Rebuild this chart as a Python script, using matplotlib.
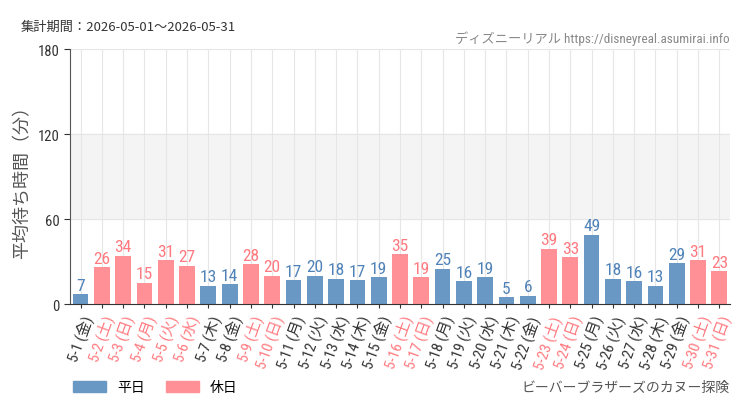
import matplotlib.pyplot as plt
from matplotlib.patches import Patch

plt.rcParams['font.family'] = ['Noto Sans CJK JP', 'DejaVu Sans']

days = ['5-1', '5-2', '5-3', '5-4', '5-5', '5-6', '5-7', '5-8', '5-9', '5-10',
        '5-11', '5-12', '5-13', '5-14', '5-15', '5-16', '5-17', '5-18', '5-19', '5-20',
        '5-21', '5-22', '5-23', '5-24', '5-25', '5-26', '5-27', '5-28', '5-29', '5-30', '5-31']
weekdays = ['金', '土', '日', '月', '火', '水', '木', '金', '土', '日',
            '月', '火', '水', '木', '金', '土', '日', '月', '火', '水',
            '木', '金', '土', '日', '月', '火', '水', '木', '金', '土', '日']
waits = [7, 26, 34, 15, 31, 27, 13, 14, 28, 20, 17, 20, 18, 17, 19, 35, 19, 25, 16, 19,
         5, 6, 39, 33, 49, 18, 16, 13, 29, 31, 23]
holiday = ['5-2', '5-3', '5-4', '5-5', '5-6', '5-9', '5-10', '5-16', '5-17',
           '5-23', '5-24', '5-30', '5-31']

blue = '#6a98c4'
pink = '#ff9196'
blue_txt = '#4f82b8'
pink_txt = '#ff7a80'
narrow = ['Roboto Condensed', 'Noto Sans CJK JP']

fig = plt.figure(figsize=(7.5, 4.1), dpi=100)
ax = fig.add_axes([0.0933, 0.256, 0.88, 0.622])

x = list(range(len(days)))
cols = [pink if d in holiday else blue for d in days]
ax.axhspan(60, 120, color='#f4f4f4', zorder=0)
for xi in x:
    ax.axvline(xi, color='#e6e6e6', lw=0.8, zorder=0.5)
for yv in [60, 120, 180]:
    ax.axhline(yv, color='#e6e6e6', lw=0.8, zorder=0.5)
ax.bar(x, waits, width=0.74, color=cols, zorder=2)
for xi, v, d in zip(x, waits, days):
    ax.text(xi, v + 1.0, str(v), ha='center', va='bottom', fontsize=12.5,
            color=pink_txt if d in holiday else blue_txt, family=narrow)

ax.set_xlim(-0.5, len(days) - 0.5)
ax.set_ylim(0, 180)
ax.set_yticks([0, 60, 120, 180])
ax.tick_params(axis='y', labelsize=10.5, colors='#333333', length=4)
ax.tick_params(axis='x', length=3, color='#333333')
for lab in ax.get_yticklabels():
    lab.set_family(narrow)
ax.set_xticks(x)
ax.set_xticklabels([f'{d} ({w})' for d, w in zip(days, weekdays)], rotation=70,
                   ha='right', rotation_mode='anchor', fontsize=11, family=narrow)
for lab, d in zip(ax.get_xticklabels(), days):
    lab.set_color(pink_txt if d in holiday else '#333333')
ax.set_ylabel('平均待ち時間（分）', fontsize=13, color='#555555')
ax.yaxis.set_label_coords(-0.058, 0.5)
for s in ['top', 'right']:
    ax.spines[s].set_visible(False)
ax.spines['left'].set_color('#555555')
ax.spines['bottom'].set_color('#333333')

fig.text(0.027, 0.925, '集計期間：2026-05-01～2026-05-31', fontsize=9.5, color='#333333')
fig.text(0.973, 0.895, 'ディズニーリアル https://disneyreal.asumirai.info', fontsize=9.5,
         color='#888888', ha='right', family=narrow)
fig.text(0.973, 0.045, 'ビーバーブラザーズのカヌー探険', fontsize=10, color='#555555', ha='right')
fig.legend(handles=[Patch(color=blue, label='平日'), Patch(color=pink, label='休日')],
           loc='lower left', bbox_to_anchor=(0.08, 0.005), ncol=2, frameon=False,
           fontsize=10, handlelength=2.4, handleheight=0.8, columnspacing=1.5)

fig.savefig('out.png', dpi=100)
